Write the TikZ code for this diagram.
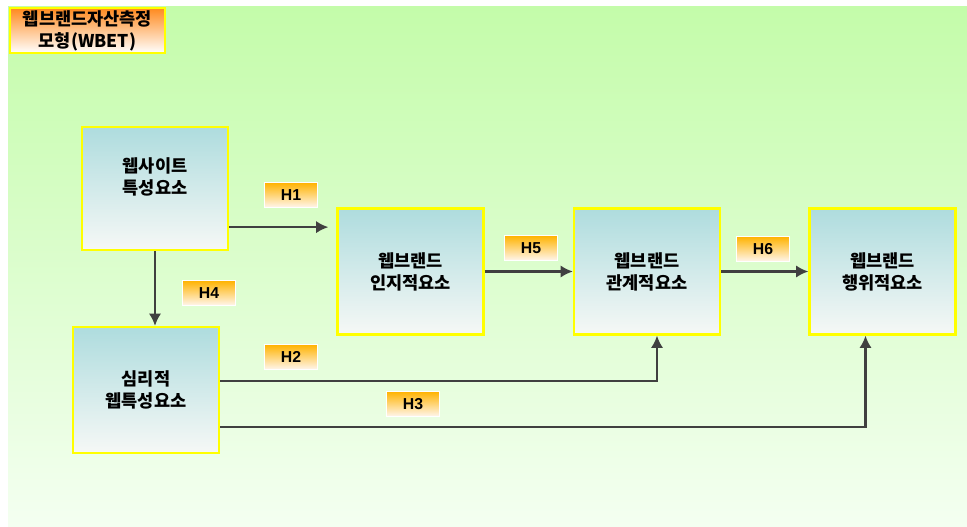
\documentclass[tikz,border=0pt]{standalone}
\usepackage{fontspec}
\setsansfont{Liberation Sans}
\newfontfamily\kr{Noto Sans CJK KR}
\usepackage{tikz}
\usetikzlibrary{arrows.meta,positioning,calc}

\definecolor{bgtop}{HTML}{C4FCAA}
\definecolor{bgbot}{HTML}{F4FFF1}
\definecolor{boxtop}{HTML}{AEDCDE}
\definecolor{boxbot}{HTML}{F6F8F6}
\definecolor{hyptop}{HTML}{FFB300}
\definecolor{hypbot}{HTML}{FFF6EE}
\definecolor{titletop}{HTML}{FF8A1E}
\definecolor{rim}{HTML}{FFFF00}

\begin{document}
\begin{tikzpicture}[x=0.02cm, y=-0.02cm,
    factor/.style={draw=rim, line width=1.3pt, top color=boxtop, bottom color=boxbot,
        minimum width=2.92cm, minimum height=2.52cm, inner sep=0pt, align=center,
        font=\kr\bfseries\fontsize{10}{12.5}\selectfont},
    hyp/.style={draw=white, line width=0.8pt, top color=hyptop, bottom color=hypbot,
        minimum width=1.06cm, minimum height=0.5cm, inner sep=0pt,
        font=\sffamily\bfseries\fontsize{9}{10}\selectfont},
    arr/.style={-{Latex[length=7pt,width=7pt]}, line width=1.2pt, draw=black!75}]
    \useasboundingbox (0,0) rectangle (967,527);
    \fill[white] (0,0) rectangle (967,527);
    \fill[top color=bgtop, bottom color=bgbot] (8,7) rectangle (967,527);

    % model title
    \node[draw=rim, line width=1.3pt, top color=titletop, bottom color=white,
        minimum width=3.1cm, minimum height=0.9cm, inner sep=0pt, align=center,
        font=\kr\bfseries\fontsize{10}{12.5}\selectfont] (title) at (87.5,30.5)
        {웹브랜드자산측정\\모형(WBET)};

    % factor boxes
    \node[factor, minimum height=2.46cm] (site) at (155,188.5) {};
    \node[font=\kr\bfseries\fontsize{10}{12.5}\selectfont, align=center] (sitetext) at (155,177) {웹사이트\\특성요소};
    \node[factor] (psy) at (146,390) {심리적\\웹특성요소};
    \node[factor] (cog) at (410.5,271.5) {웹브랜드\\인지적요소};
    \node[factor] (rel) at (647,271.5) {웹브랜드\\관계적요소};
    \node[factor] (act) at (882.5,271.5) {웹브랜드\\행위적요소};

    % hypothesis tags
    \node[hyp] (h1) at (291,195) {H1};
    \node[hyp] (h4) at (209,293) {H4};
    \node[hyp] (h5) at (531,248) {H5};
    \node[hyp] (h6) at (763,249) {H6};
    \node[hyp] (h2) at (291,357) {H2};
    \node[hyp] (h3) at (413,404) {H3};

    % paths
    \coordinate (h1from) at ($(site.south east)+(0,-24)$);
    \coordinate (h2from) at ($(psy.east)+(0,-9)$);
    \coordinate (h2to) at ($(rel.south)+(10,0)$);
    \coordinate (h3from) at ($(psy.east)+(0,37)$);
    \coordinate (h3to) at ($(act.south)+(-17,0)$);
    \draw[arr, shorten >=0.16cm] (h1from) -- (h1from -| cog.west);
    \draw[arr] (site.south) -- (site.south |- psy.north);
    \draw[arr] (cog.east) -- (rel.west);
    \draw[arr] (rel.east) -- (act.west);
    \draw[arr] (h2from) -| (h2to);
    \draw[arr] (h3from) -| (h3to);
\end{tikzpicture}
\end{document}
